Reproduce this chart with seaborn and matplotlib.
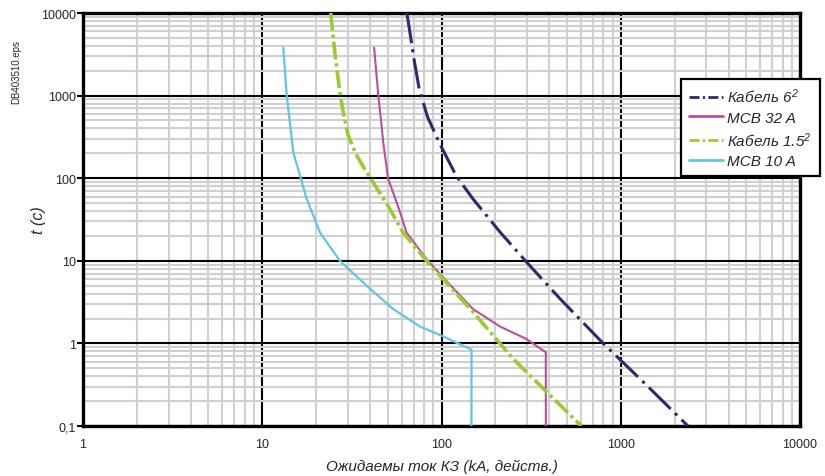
import numpy as np
import pandas as pd
import matplotlib
matplotlib.use("Agg")
import matplotlib.pyplot as plt
from matplotlib.ticker import FixedLocator, FixedFormatter, LogLocator, NullFormatter
from matplotlib.lines import Line2D
import seaborn as sns

# Time-current characteristics (current in A, time in s)
cable6_current = [64.1, 66.6, 70.2, 75.1, 83.6, 98, 121, 150, 212, 298, 457, 798, 1420, 2370]
cable6_time = [10000, 5900, 2770, 1200, 551, 259, 106, 56, 22.3, 9.66, 3.5, 1.0, 0.3, 0.1]

mcb32_current = [42.1, 43.2, 44.4, 46, 47.3, 50.4, 54, 58, 63.8, 82.5, 100, 150, 212, 298, 382, 382]
mcb32_time = [3800, 2000, 1000, 500, 272, 98, 65, 42, 22, 10.5, 6.6, 2.6, 1.6, 1.13, 0.78, 0.1]

cable15_current = [24.1, 25.4, 27.1, 28.4, 30.2, 33.3, 38.2, 50.4, 61, 82.5, 100, 150, 251, 385, 604]
cable15_time = [10000, 3343, 1096, 599, 327, 196, 118, 46, 22, 10, 6.3, 2.4, 0.65, 0.26, 0.1]

mcb10_current = [13.1, 13.7, 14.9, 17.7, 21, 27.1, 38.2, 53.8, 75.8, 100, 147, 147]
mcb10_time = [3800, 1000, 206, 56, 22, 10, 5, 2.6, 1.6, 1.24, 0.84, 0.1]

series_names = ["Кабель 6$^2$", "MCB 32 A", "Кабель 1.5$^2$", "MCB 10 A"]

x_ticks = [1, 10, 100, 1000, 10000]
x_labels = ["1", "10", "100", "1000", "10000"]
y_ticks = [0.1, 1, 10, 100, 1000, 10000]
y_labels = ["0,1", "1", "10", "100", "1000", "10000"]

sns.set_style("white")
plt.rcParams["font.family"] = ["Liberation Sans", "DejaVu Sans"]
plt.rcParams["mathtext.fontset"] = "custom"
plt.rcParams["mathtext.rm"] = "Liberation Sans:italic"
plt.rcParams["mathtext.it"] = "Liberation Sans:italic"

fig = plt.figure(figsize=(8.25, 4.77), dpi=100)
ax = fig.add_axes([83 / 825, 50 / 477, 717 / 825, 413 / 477])

colors = ["#2d2a6b", "#b8509f", "#9ccb2f", "#62c6e0"]
widths = [2.2, 1.5, 2.6, 1.6]
line_styles = [(0, (10, 2, 1, 2)), "-", (0, (4.9, 1.1, 0.9, 1.1)), "-"]
curves = [
    (cable6_current, cable6_time),
    (mcb32_current, mcb32_time),
    (cable15_current, cable15_time),
    (mcb10_current, mcb10_time),
]

for (cur, tm), col, lw, ls in zip(curves, colors, widths, line_styles):
    df = pd.DataFrame({"current": cur, "time": tm})
    sns.lineplot(data=df, x="current", y="time", ax=ax, sort=False,
                 estimator=None, color=col, linewidth=lw, linestyle=ls, zorder=3)

ax.set_xscale("log")
ax.set_yscale("log")
ax.set_xlim(1, 10000)
ax.set_ylim(0.1, 10000)

ax.xaxis.set_major_locator(FixedLocator(x_ticks))
ax.xaxis.set_major_formatter(FixedFormatter(x_labels))
ax.yaxis.set_major_locator(FixedLocator(y_ticks))
ax.yaxis.set_major_formatter(FixedFormatter(y_labels))
ax.xaxis.set_minor_locator(LogLocator(base=10, subs=np.arange(2, 10), numticks=20))
ax.yaxis.set_minor_locator(LogLocator(base=10, subs=np.arange(2, 10), numticks=20))
ax.xaxis.set_minor_formatter(NullFormatter())
ax.yaxis.set_minor_formatter(NullFormatter())

ax.set_axisbelow(True)
ax.grid(which="minor", color="#d0d0d0", linewidth=1.5)
ax.grid(which="major", color="black", linewidth=1.5)

ax.tick_params(axis="y", which="major", length=4, width=1.5, color="black",
               direction="out", pad=1, labelsize=9, left=True)
ax.tick_params(axis="x", which="major", length=0, pad=9, labelsize=9)
ax.tick_params(which="minor", length=0)

for sp in ax.spines.values():
    sp.set_visible(True)
    sp.set_color("black")
    sp.set_linewidth(2.4)

ax.set_xlabel("Ожидаемы ток КЗ (kA, действ.)", fontsize=11, style="italic", labelpad=6)
ax.set_ylabel("t (c)", fontsize=11.5, style="italic")
ax.yaxis.set_label_coords(-0.052, 0.5)

fig.text(16 / 825, 1 - 72 / 477, "DB403510.eps", rotation=90, fontsize=7,
         ha="center", va="center")

handles = [
    Line2D([], [], color=colors[0], lw=2.0, ls=(0, (3.6, 1.2, 0.8, 1.2))),
    Line2D([], [], color=colors[1], lw=2.0, ls="-"),
    Line2D([], [], color=colors[2], lw=2.0, ls=(0, (3.6, 1.2, 0.8, 1.2))),
    Line2D([], [], color=colors[3], lw=2.0, ls="-"),
]
leg = ax.legend(handles, series_names, loc="upper left",
                bbox_to_anchor=(681 / 825, 1 - 80 / 477),
                bbox_transform=fig.transFigure, frameon=True, fancybox=False,
                borderaxespad=0, borderpad=0.5, handlelength=2.22,
                handletextpad=0.32, labelspacing=0.36,
                prop=dict(size=11, style="italic"))
leg.get_frame().set_edgecolor("black")
leg.get_frame().set_linewidth(1.6)
leg.get_frame().set_facecolor("white")
leg.get_frame().set_alpha(1)
leg.set_zorder(10)

fig.savefig("out.png", dpi=100)
